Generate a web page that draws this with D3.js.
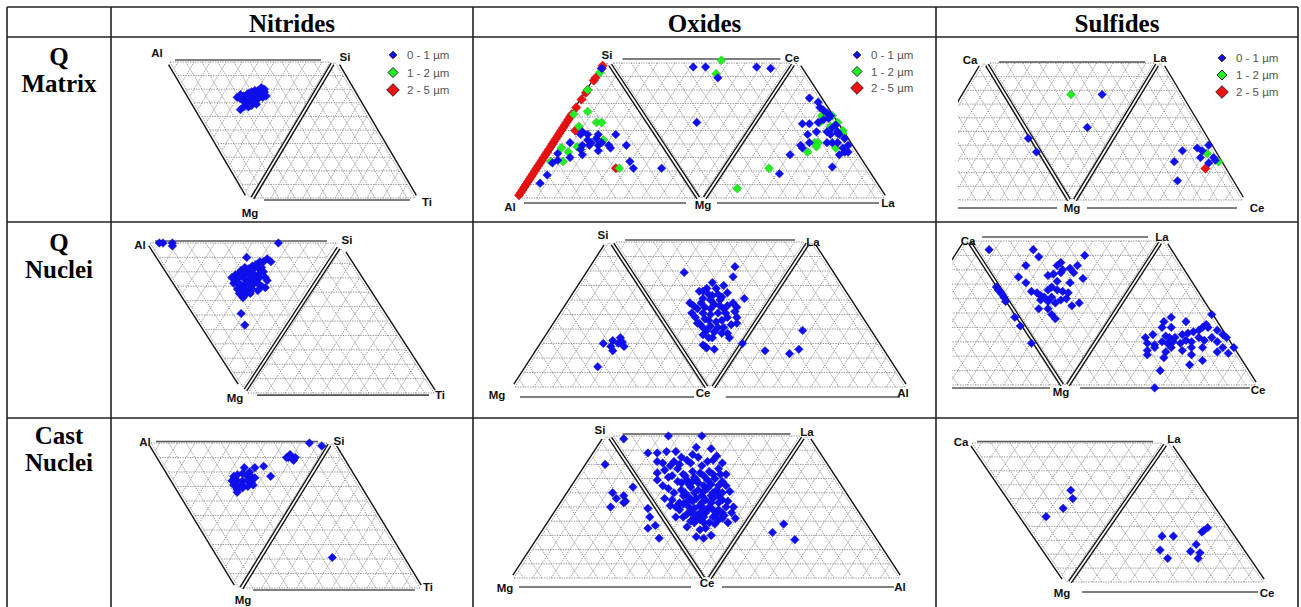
<!DOCTYPE html>
<html>
<head>
<meta charset="utf-8">
<title>Inclusion composition ternaries</title>
<script src="https://cdn.jsdelivr.net/npm/d3@7/dist/d3.min.js"></script>
<style>
  body { margin: 0; background: #fff; }
  svg { display: block; }
</style>
</head>
<body>
<script>
// ---------- data ----------
const columnTitles = ["Nitrides", "Oxides", "Sulfides"];
const rowTitles = [["Q", "Matrix"], ["Q", "Nuclei"], ["Cast", "Nuclei"]];
const sizeClasses = ["0 - 1 µm", "1 - 2 µm", "2 - 5 µm"];

const nitridesVertices = ["Al", "Si", "Mg", "Ti"];
const oxidesMatrixVertices = ["Al", "Si", "Mg", "Ce", "La"];
const oxidesNucleiVertices = ["Si", "La", "Mg", "Ce", "Al"];
const sulfidesVertices = ["Ca", "La", "Mg", "Ce"];

// points are [u, v]: u = % of a triangle side along the strip, v = % of triangle height from the top
const nitridesQMatrix01 = [[42,26],[44,24],[46,25],[48,24],[49,23],[51,22],[53,21],[55,21],[57,19],[59,20],[59,22],[58,24],[56,24],[54,25],[52,26],[50,27],[48,28],[46,28],[44,27],[47,30],[49,31],[52,29],[54,28],[56,26],[58,26],[60,25],[46,33],[44,35],[49,33],[51,32],[54,31]];
const nitridesQMatrix12 = [[58,20],[50,32]];
const nitridesQMatrix25 = [];

const oxidesQMatrix01 = [[12,89],[16,83],[19,74],[22,72],[22,67],[29,59],[35,53],[36,51],[39,53],[41,59],[44,56],[45,61],[47,59],[40,61],[36,61],[35,64],[36,68],[39,57],[45,65],[51,61],[52,63],[55,53],[61,61],[63,73],[65,78],[81,78],[29,70],[45,53],[47,4],
  [99,3],[106,3],[113,11],[101,44],[135,3],[143,4],
  [165,26],[170,29],[171,33],[173,35],[175,37],[177,39],[161,45],[165,45],[170,44],[173,42],[176,41],[180,46],[164,53],[169,51],[175,51],[177,53],[181,51],[182,53],[175,59],[178,59],[181,59],[185,56],[187,61],[160,61],[161,63],[165,59],[184,63],[185,66],[187,66],[182,68],[154,68],[178,77],[148,82],[181,52],[178,48]];
const oxidesQMatrix12 = [[18,73],[25,73],[24,63],[28,66],[33,62],[34,47],[39,36],[44,44],[47,44],[48,57],[46,7],[39,20],[31,38],[57,78],
  [115,-2],[112,8],
  [172,39],[176,40],[178,39],[181,44],[177,47],[176,50],[184,50],[184,52],[171,44],[168,59],[170,59],[169,62],[164,66],[180,63],[142,78],[124,93]];
const oxidesQMatrix25 = [[0,98],[1,96],[2,94],[3,92],[4,90],[5,88],[6,86],[7,84],[8,82],[9,80],[10,78],[11,76],[12,74],[13,72],[14,70],[15,68],[16,66],[17,64],[18,62],[19,60],[20,58],[21,56],[22,54],[23,52],[24,50],[25,48],[26,46],[27,44],[28,42],[29,40],[30,38],[32.5,33],[35.5,27],[38,22],[39,20],[42.5,13],[43.5,11],[47,4],[47.5,2],
  [55,78],[32,50]];

const sulfidesQMatrix01 = [[122,23],[113,47],[77,55],[82,65],[171,64],[166,72],[168,86],[180,62],[183,64],[187,60],[182,69],[190,69],[191,71],[187,73]];
const sulfidesQMatrix12 = [[103,23],[186,66],[193,72]];
const sulfidesQMatrix25 = [[185,77]];

const nitridesQNuclei01 = [[52,10],[55,16],[57,15],[59,13],[61,13],[63,11],[65,13],[49,19],[51,17],[53,18],[55,19],[58,17],[60,17],[46,22],[48,21],[50,22],[52,21],[54,22],[56,22],[59,21],[61,20],[44,24],[46,25],[48,24],[51,25],[53,26],[55,25],[57,24],[59,24],[62,24],[63,26],[45,28],[47,28],[49,29],[52,28],[54,29],[56,28],[58,28],[60,30],[62,31],[47,32],[49,33],[51,32],[53,33],[55,32],[58,33],[48,35],[50,36],[52,35],[54,35],[50,38],[49,49],[51,57],[5,0],[7,0],[12,0],[12,2],[69,0]];

const oxidesQNuclei01 = [[47,70],[52,68],[51,72],[52,75],[56,66],[57,69],[58,72],[55,70],[44,86],
  [90,21],[117,17],[116,24],[105,28],[111,30],[107,32],[102,32],[98,34],[113,35],[122,39],[100,39],[104,40],[109,40],[93,42],[97,46],[101,45],[106,43],[111,46],[116,42],[118,45],[117,48],[94,49],[100,49],[104,50],[108,49],[113,52],[118,52],[98,56],[103,54],[107,55],[111,59],[115,57],[118,56],[97,56],[102,61],[108,59],[100,64],[105,66],[113,63],[114,66],[100,71],[102,73],[101,72],[106,74],[110,38],[105,37],[100,34],
  [103,36],[108,36],[99,42],[104,46],[109,44],[113,44],[96,52],[101,53],[110,54],[106,62],[110,63],[104,58],[112,49],[100,59],[95,44],[103,66],
  [153,61],[133,75],[146,77],[151,74],[121,70]];

const sulfidesQNuclei01 = [[62,6],[86,6],[89,11],[114,10],[82,17],[101,15],[99,17],[106,19],[110,17],[108,22],[78,25],[94,24],[97,23],[101,22],[102,20],[113,26],[82,29],[99,28],[106,29],[96,32],[94,34],[85,35],[88,36],[99,34],[102,35],[105,36],[92,39],[96,39],[101,41],[104,40],[94,42],[98,43],[89,47],[94,47],[107,45],[111,43],[96,51],[98,54],[90,41],[90,38],
  [66,32],[68,35],[70,39],[71,42],[76,53],[79,59],[85,71],[67,34],[69,37],
  [183,51],[157,56],[161,53],[169,56],[180,58],[156,60],[161,60],[147,67],[151,65],[158,66],[160,67],[163,67],[167,65],[170,64],[173,63],[176,62],[178,60],[181,60],[186,62],[189,65],[191,67],[148,71],[152,72],[156,70],[159,71],[162,70],[166,71],[169,69],[172,70],[176,67],[179,69],[183,67],[186,70],[148,76],[152,74],[158,77],[161,74],[167,76],[172,74],[178,74],[189,74],[195,74],[148,79],[157,81],[172,79],[178,83],[186,77],[192,78],[171,86],[155,90],[152,102]];

const nitridesCastNuclei01 = [[90,0],[97,2],[77,10],[79,8],[82,10],[81,12],[78,10],[64,16],[68,23],[59,17],[53,17],[56,20],[47,23],[49,22],[52,21],[55,23],[57,23],[59,24],[46,26],[49,26],[52,26],[55,26],[57,27],[47,29],[49,29],[52,29],[55,30],[58,29],[52,31],[49,32],[49,34],[103,79]];

const oxidesCastNuclei01 = [[49,20],[53,40],[55,44],[59,42],[60,46],[59,47],[52,50],[64,36],[72,51],[73,57],[76,63],[72,65],[78,72],
  [83,0],[101,0],[59,2],[72,12],[77,12],[82,11],[87,11],[98,8],[106,9],[96,13],[109,14],[77,18],[80,19],[86,18],[93,17],[95,19],[104,18],[107,17],[110,23],[77,26],[83,29],[88,23],[91,27],[96,25],[100,26],[105,25],[114,27],[77,31],[80,35],[88,32],[93,31],[98,31],[104,31],[108,30],[112,32],[83,37],[90,38],[95,36],[99,38],[104,37],[109,38],[81,44],[85,45],[89,47],[94,43],[98,44],[103,45],[107,44],[115,46],[84,49],[94,50],[100,49],[105,50],[110,52],[117,54],[112,54],[87,57],[91,57],[98,56],[103,54],[107,57],[112,58],[115,61],[93,64],[97,61],[102,61],[105,61],[110,59],[98,71],[102,72],[106,70],[100,66],[103,65],[96,32],[102,35],[106,42],[101,42],[96,46],[104,52],[100,54],[95,54],[89,52],[110,42],[112,45],[91,42],
  [92,28],[97,29],[102,28],[107,27],[111,27],[90,33],[94,34],[99,33],[106,34],[110,35],[92,40],[97,40],[102,39],[107,40],[112,40],[93,46],[101,47],[106,47],[110,47],[91,48],[97,51],[102,51],[107,52],[114,50],[93,55],[102,57],[109,55],[96,59],[100,59],[108,62],[95,60],[113,56],[86,40],[87,50],[85,28],[81,24],[84,21],[101,21],[99,15],[90,15],[89,20],[112,19],[114,35],[116,39],[118,50],[119,58],
  [145,62],[139,68],[151,73]];

const sulfidesCastNuclei01 = [[52,34],[53,40],[48,47],[39,53],[100,67],[106,67],[121,64],[122,63],[124,61],[118,73],[115,78],[120,79],[119,83],[99,77],[103,83]];

// ---------- layout ----------
const width = 1301, height = 607;
const colEdges = [7, 111, 473, 936, 1298];
const rowEdges = [7, 37, 222, 418, 607];
const sizeColors = ["#0f0ff0", "#22ee22", "#ee1111"];
const sizeStrokes = ["#0a0ad0", "#14a014", "#a00000"];
const sizeRadius = [4.3, 4.5, 4.7];

const panels = [
  { col: 0, row: 0, x0: 170, y0: 62, s: 160, h: 136, tris: [["down", 0, 0], ["up", 53.1, 0]], top: 2, bot: 2,
    names: nitridesVertices, labelAt: [[157, 53], [345, 57], [250, 213], [427, 202]],
    series: [nitridesQMatrix01, nitridesQMatrix12, nitridesQMatrix25], legend: [393, 55, 17.5] },
  { col: 1, row: 0, x0: 519, y0: 63, s: 176, h: 135, tris: [["up", 0, 0], ["down", 53.7, 0], ["up", 107.4, 0]], top: 4, bot: 5,
    names: oxidesMatrixVertices, labelAt: [[510, 207], [607, 55], [703, 205], [792, 58], [888, 203]],
    series: [oxidesQMatrix01, oxidesQMatrix12, oxidesQMatrix25], legend: [857, 55, 16.5] },
  { col: 2, row: 0, x0: 902, y0: 63, s: 164, h: 137, tris: [["up", 0, 0], ["down", 53.7, 0], ["up", 107.3, 0]], top: 1, bot: 8, clipLeft: 958,
    names: sulfidesVertices, labelAt: [[970, 60], [1160, 58], [1072, 208], [1257, 208]],
    series: [sulfidesQMatrix01, sulfidesQMatrix12, sulfidesQMatrix25], legend: [1222, 58, 17] },
  { col: 0, row: 1, x0: 150, y0: 243, s: 186, h: 144, tris: [["down", 0, 0], ["up", 52.7, 4.2]], top: 2, bot: 2,
    names: nitridesVertices, labelAt: [[140, 245], [347, 240], [235, 398], [440, 395]],
    series: [nitridesQNuclei01, [], []] },
  { col: 1, row: 1, x0: 515, y0: 242, s: 188, h: 145, tris: [["up", 0, 0], ["down", 53.7, 0], ["up", 107.4, 0]], top: 2, bot: 10,
    names: oxidesNucleiVertices, labelAt: [[603, 235], [813, 242], [497, 395], [703, 393], [903, 393]],
    series: [oxidesQNuclei01, [], []] },
  { col: 2, row: 1, x0: 875, y0: 241, s: 184, h: 144, tris: [["up", 0, 0], ["down", 53.3, 0], ["up", 106.5, 0]], top: 4, bot: 3, clipLeft: 952,
    names: sulfidesVertices, labelAt: [[968, 241], [1162, 237], [1061, 392], [1258, 390]],
    series: [sulfidesQNuclei01, [], []] },
  { col: 0, row: 2, x0: 151, y0: 443, s: 176, h: 145, tris: [["down", 0, 0], ["up", 52.8, 0]], top: 1.5, bot: 2,
    names: nitridesVertices, labelAt: [[145, 442], [339, 441], [243, 600], [428, 587]],
    series: [nitridesCastNuclei01, [], []] },
  { col: 1, row: 2, x0: 514, y0: 436, s: 186, h: 142, tris: [["up", 0, 0], ["down", 53.5, 0], ["up", 107, 0]], top: 2, bot: 9,
    names: oxidesNucleiVertices, labelAt: [[600, 430], [807, 432], [505, 588], [707, 583], [900, 587]],
    series: [oxidesCastNuclei01, [], []] },
  { col: 2, row: 2, x0: 972, y0: 443, s: 190, h: 139, tris: [["down", 0, 0], ["up", 53.2, 0]], top: 1.5, bot: 10,
    names: sulfidesVertices, labelAt: [[961, 442], [1174, 439], [1062, 593], [1267, 593]],
    series: [sulfidesCastNuclei01, [], []] }
];

const svg = d3.select("body").append("svg")
  .attr("width", width)
  .attr("height", height);

svg.append("rect").attr("width", width).attr("height", height).attr("fill", "#fff");

const defs = svg.append("defs");
const diamond = r => `M0,${-r}L${r},0L0,${r}L${-r},0Z`;

// grid lines of one triangle, in data units
function gridLines(dir, u0, dv) {
  const lines = [];
  for (let k = 0; k <= 100; k += 10) {
    const half = dir === "down" ? (100 - k) / 2 : k / 2;
    if (half > 0) lines.push([[u0 + 50 - half, dv + k], [u0 + 50 + half, dv + k]]);
  }
  if (dir === "down") {
    for (let c = 0; c <= 90; c += 10) lines.push([[u0 + c, dv], [u0 + c + (100 - c) / 2, dv + 100 - c]]);
    for (let d = 5; d <= 100; d += 10) lines.push([[u0 + d, dv], [u0 + d / 2, dv + d]]);
    lines.push([[u0 + 100, dv], [u0 + 50, dv + 100]]);
  } else {
    for (let c = 0; c <= 90; c += 10) lines.push([[u0 + c, dv + 100], [u0 + 50 + c / 2, dv + c]]);
    for (let d = 5; d <= 95; d += 10) lines.push([[u0 + 100 - d, dv + 100], [u0 + 50 - d / 2, dv + d]]);
    lines.push([[u0 + 100, dv + 100], [u0 + 50, dv]]);
  }
  return lines;
}

function drawPanel(p, i) {
  const x = d3.scaleLinear().domain([0, 100]).range([p.x0, p.x0 + p.s]);
  const y = d3.scaleLinear().domain([0, 100]).range([p.y0, p.y0 + p.h]);
  const cx0 = p.clipLeft || colEdges[p.col + 1] + 1;
  const cx1 = colEdges[p.col + 2] - 1;
  const cy0 = rowEdges[p.row + 1] + 1;
  const cy1 = rowEdges[p.row + 2] - 1;

  defs.append("clipPath").attr("id", "clip" + i)
    .append("rect").attr("x", cx0).attr("y", cy0).attr("width", cx1 - cx0).attr("height", cy1 - cy0);

  const g = svg.append("g").attr("clip-path", `url(#clip${i})`);
  const line = d3.line().x(d => x(d[0])).y(d => y(d[1]));

  // dotted grids
  p.tris.forEach(([dir, u0, dv]) => {
    g.append("g").selectAll("path")
      .data(gridLines(dir, u0, dv))
      .join("path")
      .attr("d", line)
      .attr("fill", "none")
      .attr("stroke", "#7a7a7a")
      .attr("stroke-width", 0.75)
      .attr("stroke-dasharray", "1.4,1.1");
  });

  const corners = p.tris.map(([dir, u0, dv]) => dir === "down"
    ? { dir, a: [x(u0), y(dv)], b: [x(u0 + 100), y(dv)], c: [x(u0 + 50), y(dv + 100)] }
    : { dir, a: [x(u0 + 50), y(dv)], b: [x(u0), y(dv + 100)], c: [x(u0 + 100), y(dv + 100)] });
  const n = corners.length;

  // horizontal edges (grey)
  corners.forEach((t, k) => {
    const trimL = k > 0 ? 9 : 5;
    const trimR = k < n - 1 ? 9 : 5;
    let x1, x2, yy;
    if (t.dir === "down") { x1 = t.a[0]; x2 = t.b[0]; yy = t.a[1] - p.top; }
    else { x1 = t.b[0]; x2 = t.c[0]; yy = t.b[1] + p.bot; }
    g.append("line")
      .attr("x1", x1 + trimL).attr("x2", x2 - trimR)
      .attr("y1", yy).attr("y2", yy)
      .attr("stroke", "#555").attr("stroke-width", 1.7);
  });

  // outer slanted edges (black)
  const seg = (p1, p2, dx) => {
    const f = 0.02;
    g.append("line")
      .attr("x1", p1[0] + (p2[0] - p1[0]) * f + dx).attr("y1", p1[1] + (p2[1] - p1[1]) * f)
      .attr("x2", p2[0] - (p2[0] - p1[0]) * f + dx).attr("y2", p2[1] - (p2[1] - p1[1]) * f)
      .attr("stroke", "#111").attr("stroke-width", 1.4);
  };
  const first = corners[0], last = corners[n - 1];
  if (first.dir === "down") seg(first.a, first.c, -3); else seg(first.a, first.b, -3);
  if (last.dir === "up") seg(last.a, last.c, 3); else seg(last.b, last.c, 3);

  // double lines between neighbouring triangles
  for (let k = 0; k < n - 1; k++) {
    const t1 = corners[k], t2 = corners[k + 1];
    let top, bottom;
    if (t1.dir === "down") { top = [(t1.b[0] + t2.a[0]) / 2, (t1.b[1] + t2.a[1]) / 2]; bottom = [(t1.c[0] + t2.b[0]) / 2, (t1.c[1] + t2.b[1]) / 2]; }
    else { top = [(t1.a[0] + t2.a[0]) / 2, (t1.a[1] + t2.a[1]) / 2]; bottom = [(t1.c[0] + t2.c[0]) / 2, (t1.c[1] + t2.c[1]) / 2]; }
    const d = `M${top[0]},${top[1] + 2}L${bottom[0]},${bottom[1]}`;
    g.append("path").attr("d", d).attr("stroke", "#111").attr("stroke-width", 4.4).attr("fill", "none");
    g.append("path").attr("d", d).attr("stroke", "#fff").attr("stroke-width", 1.7).attr("fill", "none");
  }

  // points: largest class first so small ones stay visible
  [2, 1, 0].forEach(k => {
    g.append("g").selectAll("path")
      .data(p.series[k])
      .join("path")
      .attr("transform", d => `translate(${x(d[0])},${y(d[1])})`)
      .attr("d", diamond(sizeRadius[k]))
      .attr("fill", sizeColors[k])
      .attr("stroke", sizeStrokes[k])
      .attr("stroke-width", 0.4);
  });

  // vertex labels
  svg.append("g").selectAll("text")
    .data(p.names)
    .join("text")
    .attr("x", (d, j) => p.labelAt[j][0])
    .attr("y", (d, j) => p.labelAt[j][1])
    .attr("dy", "0.36em")
    .attr("text-anchor", "middle")
    .attr("font-family", "'Liberation Sans', Arial, sans-serif")
    .attr("font-weight", "bold")
    .attr("font-size", 11.5)
    .attr("fill", "#111")
    .text(d => d);

  // legend
  if (p.legend) {
    const [lx, ly, step] = p.legend;
    const lg = svg.append("g");
    sizeClasses.forEach((label, k) => {
      lg.append("path")
        .attr("transform", `translate(${lx},${ly + k * step})`)
        .attr("d", diamond([3.8, 5, 6.3][k]))
        .attr("fill", sizeColors[k])
        .attr("stroke", "#1a1a1a")
        .attr("stroke-width", 0.9);
      lg.append("text")
        .attr("x", lx + 14)
        .attr("y", ly + k * step)
        .attr("dy", "0.35em")
        .attr("font-family", "'Liberation Sans', Arial, sans-serif")
        .attr("font-size", 11.5)
        .attr("fill", "#555")
        .text(label);
    });
  }
}

panels.forEach(drawPanel);

// ---------- table ----------
const table = svg.append("g").attr("stroke", "#222").attr("stroke-width", 1.6);
rowEdges.slice(0, 4).forEach(yy => {
  table.append("line").attr("x1", colEdges[0]).attr("x2", colEdges[4]).attr("y1", yy).attr("y2", yy);
});
colEdges.forEach(xx => {
  table.append("line").attr("x1", xx).attr("x2", xx).attr("y1", rowEdges[0]).attr("y2", height);
});

const serif = "'Liberation Serif', 'Times New Roman', serif";
svg.append("g").selectAll("text")
  .data(columnTitles)
  .join("text")
  .attr("x", (d, i) => (colEdges[i + 1] + colEdges[i + 2]) / 2)
  .attr("y", 32)
  .attr("text-anchor", "middle")
  .attr("font-family", serif)
  .attr("font-weight", "bold")
  .attr("font-size", 25)
  .text(d => d);

const rowBaselines = [[65, 92], [251, 278], [444, 471]];
rowTitles.forEach((lines, i) => {
  lines.forEach((t, j) => {
    svg.append("text")
      .attr("x", 59)
      .attr("y", rowBaselines[i][j])
      .attr("text-anchor", "middle")
      .attr("font-family", serif)
      .attr("font-weight", "bold")
      .attr("font-size", 25)
      .text(t);
  });
});
</script>
</body>
</html>
